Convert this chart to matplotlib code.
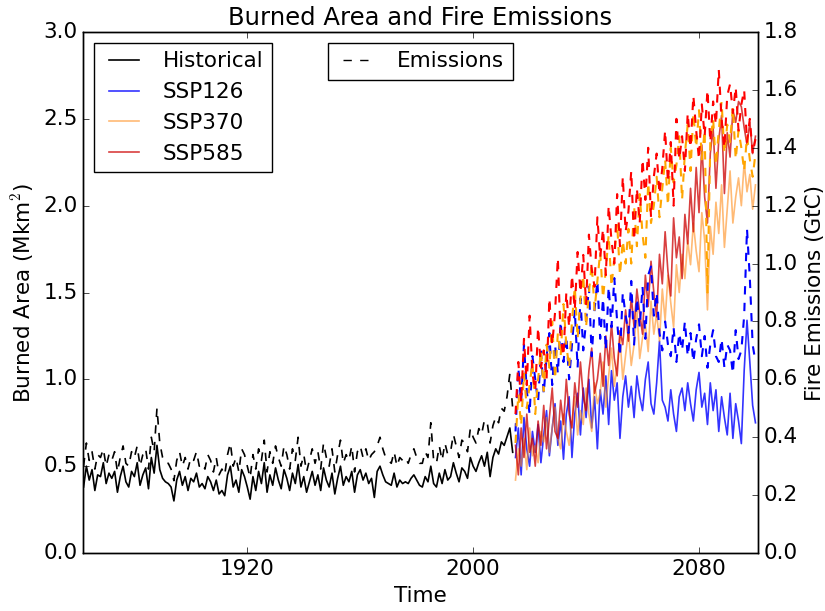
import numpy as np
import matplotlib
matplotlib.use("Agg")
import matplotlib.pyplot as plt

plt.style.use("classic")
plt.rcParams.update({
    "figure.facecolor": "white",
    "savefig.facecolor": "white",
    "font.size": 15.5,
})

# ── Data ──────────────────────────────────────────────────────────────
hist_years = np.arange(1862, 2015)
ssp_years = np.arange(2015, 2101)

hist_ba = [
    0.38, 0.50, 0.42, 0.48, 0.36, 0.45, 0.44, 0.52, 0.40, 0.46,
    0.43, 0.47, 0.35, 0.44, 0.50, 0.41, 0.38, 0.47, 0.44, 0.52,
    0.39, 0.45, 0.49, 0.37, 0.55, 0.46, 0.62, 0.48, 0.43, 0.41,
    0.40, 0.38, 0.30, 0.42, 0.47, 0.39, 0.44, 0.36, 0.43, 0.41,
    0.46, 0.38, 0.40, 0.37, 0.44, 0.41, 0.36, 0.42, 0.34, 0.36,
    0.33, 0.45, 0.50, 0.38, 0.42, 0.35, 0.48, 0.44, 0.38, 0.31,
    0.44, 0.36, 0.47, 0.40, 0.52, 0.35, 0.45, 0.39, 0.49, 0.42,
    0.37, 0.48, 0.43, 0.36, 0.46, 0.40, 0.51, 0.38, 0.44, 0.35,
    0.41, 0.47, 0.39, 0.45, 0.36, 0.49, 0.42, 0.38, 0.46, 0.34,
    0.43, 0.50, 0.39, 0.44, 0.41, 0.47, 0.35, 0.45, 0.48, 0.42,
    0.46, 0.40, 0.43, 0.32, 0.47, 0.50, 0.45, 0.41, 0.40, 0.39,
    0.46, 0.38, 0.42, 0.40, 0.41, 0.40, 0.43, 0.45, 0.42, 0.39,
    0.38, 0.44, 0.41, 0.50, 0.40, 0.38, 0.46, 0.40, 0.48, 0.42,
    0.44, 0.52, 0.46, 0.41, 0.49, 0.47, 0.43, 0.55, 0.50, 0.47,
    0.52, 0.56, 0.50, 0.58, 0.44, 0.55, 0.60, 0.57, 0.64, 0.62,
    0.67, 0.72, 0.58,
]
hist_em = [
    0.30, 0.38, 0.32, 0.35, 0.29, 0.34, 0.33, 0.36, 0.30, 0.34,
    0.32, 0.35, 0.28, 0.33, 0.37, 0.31, 0.30, 0.35, 0.33, 0.37,
    0.30, 0.34, 0.36, 0.29, 0.40, 0.35, 0.50, 0.38, 0.33, 0.31,
    0.31, 0.29, 0.25, 0.32, 0.35, 0.30, 0.33, 0.29, 0.33, 0.32,
    0.35, 0.30, 0.31, 0.29, 0.34, 0.32, 0.28, 0.33, 0.27, 0.29,
    0.27, 0.34, 0.38, 0.30, 0.33, 0.28, 0.36, 0.34, 0.30, 0.26,
    0.34, 0.29, 0.36, 0.32, 0.39, 0.28, 0.35, 0.31, 0.37, 0.33,
    0.30, 0.37, 0.34, 0.29, 0.36, 0.32, 0.40, 0.30, 0.34, 0.28,
    0.32, 0.36, 0.31, 0.35, 0.29, 0.38, 0.33, 0.30, 0.36, 0.28,
    0.34, 0.39, 0.31, 0.34, 0.32, 0.37, 0.28, 0.35, 0.37, 0.33,
    0.36, 0.32, 0.34, 0.35, 0.37, 0.40, 0.36, 0.33, 0.32, 0.31,
    0.35, 0.30, 0.33, 0.32, 0.33, 0.31, 0.34, 0.36, 0.33, 0.31,
    0.31, 0.35, 0.33, 0.45, 0.32, 0.31, 0.37, 0.32, 0.38, 0.34,
    0.35, 0.41, 0.37, 0.33, 0.39, 0.38, 0.35, 0.43, 0.40, 0.38,
    0.43, 0.41, 0.46, 0.45, 0.38, 0.44, 0.47, 0.45, 0.50, 0.49,
    0.54, 0.62, 0.50,
]

ssp126_ba = [
    0.55, 0.72, 0.45, 0.78, 0.60, 0.50, 0.70, 0.58, 0.74, 0.52,
    0.68, 0.82, 0.56, 0.72, 0.86, 0.62, 0.76, 0.54, 0.80, 0.90,
    0.55, 0.80, 0.92, 0.68, 0.95, 0.78, 1.00, 0.72, 0.90, 0.60,
    0.94, 0.80, 1.02, 0.74, 1.05, 0.88, 0.98, 0.66, 0.90, 1.02,
    0.84, 0.96, 0.78, 1.02, 0.90, 0.82, 1.00, 1.10, 0.86, 0.80,
    0.98, 1.22, 0.88, 0.84, 0.76, 0.94, 0.80, 0.70, 0.90, 0.95,
    0.82, 0.98, 0.86, 0.76, 0.94, 1.04, 0.84, 0.92, 0.74, 0.98,
    0.82, 0.94, 0.70, 0.90, 0.78, 0.68, 0.92, 0.66, 0.86, 0.76,
    0.63, 1.05, 1.34, 1.10, 0.85, 0.75,
]
ssp126_em = [
    0.42, 0.64, 0.52, 0.72, 0.56, 0.48, 0.68, 0.60, 0.52, 0.70,
    0.55, 0.68, 0.76, 0.58, 0.72, 0.62, 0.80, 0.66, 0.75, 0.60,
    0.72, 0.84, 0.64, 0.88, 0.70, 0.80, 0.92, 0.68, 0.84, 0.94,
    0.74, 0.88, 0.70, 0.92, 0.78, 0.95, 0.80, 0.68, 0.90, 0.82,
    0.76, 0.94, 0.72, 0.88, 0.78, 0.92, 0.74, 0.96, 0.99, 0.82,
    0.90, 0.76, 0.70, 0.80, 0.72, 0.68, 0.78, 0.66, 0.76, 0.70,
    0.80, 0.68, 0.76, 0.66, 0.74, 0.79, 0.68, 0.75, 0.64, 0.72,
    0.77, 0.68, 0.66, 0.74, 0.64, 0.72, 0.70, 0.62, 0.77, 0.67,
    0.70, 0.82, 1.12, 0.95, 0.72, 0.66,
]
ssp370_ba = [
    0.42, 0.60, 0.50, 0.66, 0.48, 0.72, 0.56, 0.62, 0.52, 0.70,
    0.64, 0.78, 0.58, 0.72, 0.84, 0.66, 0.60, 0.80, 0.70, 0.62,
    0.76, 0.90, 0.68, 0.82, 0.74, 0.95, 0.80, 0.70, 0.98, 0.86,
    0.92, 1.10, 0.84, 1.02, 1.18, 0.96, 1.08, 1.24, 1.00, 1.14,
    1.28, 1.08, 1.20, 1.40, 1.12, 1.24, 1.32, 1.16, 1.45, 1.26,
    1.38, 1.22, 1.52, 1.34, 1.60, 1.44, 1.30, 1.66, 1.50, 1.72,
    1.58, 1.80, 1.66, 1.90, 1.74, 1.62, 1.96, 1.80, 1.40, 1.88,
    1.72, 2.02, 1.84, 2.12, 1.76, 1.98, 2.20, 1.90, 2.05, 2.16,
    2.00, 2.25, 2.08, 2.18, 1.98, 2.12,
]
ssp370_em = [
    0.38, 0.55, 0.44, 0.62, 0.50, 0.58, 0.66, 0.48, 0.60, 0.70,
    0.56, 0.72, 0.64, 0.80, 0.60, 0.76, 0.68, 0.86, 0.72, 0.64,
    0.80, 0.92, 0.74, 0.88, 0.96, 0.78, 0.90, 1.00, 0.84, 0.94,
    1.04, 0.88, 0.98, 1.10, 0.92, 1.02, 1.14, 0.96, 1.08, 1.00,
    1.12, 1.00, 1.20, 1.06, 1.24, 1.10, 1.02, 1.28, 1.14, 1.20,
    1.30, 1.16, 1.26, 1.36, 1.20, 1.40, 1.28, 1.34, 1.44, 1.22,
    1.38, 1.48, 1.32, 1.52, 1.40, 1.53, 1.36, 1.46, 0.90, 1.42,
    1.50, 1.34, 1.46, 1.56, 1.38, 1.48, 1.42, 1.54, 1.36, 1.46,
    1.40, 1.32, 1.44, 1.36, 1.30, 1.38,
]
ssp585_ba = [
    0.62, 0.45, 0.72, 0.55, 0.80, 0.58, 0.66, 0.50, 0.76, 0.62,
    0.85, 0.60, 0.78, 0.95, 0.70, 0.66, 0.88, 0.74, 1.00, 0.80,
    0.72, 0.98, 0.84, 1.10, 0.90, 0.82, 1.05, 1.18, 0.92, 1.00,
    1.15, 0.96, 1.25, 1.08, 1.32, 1.12, 1.02, 1.28, 1.20, 1.40,
    1.22, 1.48, 1.30, 1.52, 1.38, 1.26, 1.60, 1.42, 1.68, 1.50,
    1.36, 1.72, 1.55, 1.85, 1.62, 1.48, 1.93, 1.70, 1.82, 1.58,
    1.95, 1.78, 2.10, 1.85, 2.22, 1.96, 2.35, 2.05, 1.90, 2.30,
    2.45, 2.10, 2.38, 2.52, 2.07, 2.42, 2.28, 2.55, 2.48, 2.60,
    2.57, 2.45, 2.35, 2.48, 2.30, 2.40,
]
ssp585_em = [
    0.48, 0.66, 0.52, 0.74, 0.58, 0.82, 0.62, 0.56, 0.78, 0.64,
    0.70, 0.60, 0.88, 0.72, 0.83, 1.02, 0.74, 0.68, 0.90, 0.78,
    0.96, 0.84, 1.04, 0.90, 1.03, 0.86, 1.10, 0.98, 0.92, 1.16,
    1.02, 1.12, 0.96, 1.20, 1.08, 1.00, 1.24, 1.06, 1.30, 1.11,
    1.18, 1.32, 1.08, 1.26, 1.14, 1.36, 1.22, 1.40, 1.16, 1.30,
    1.38, 1.24, 1.33, 1.46, 1.28, 1.42, 1.20, 1.50, 1.36, 1.44,
    1.32, 1.52, 1.40, 1.58, 1.46, 1.36, 1.55, 1.44, 1.60, 1.42,
    1.56, 1.48, 1.67, 1.50, 1.40, 1.58, 1.62, 1.52, 1.61, 1.46,
    1.55, 1.60, 1.42, 1.50, 1.38, 1.43,
]

scenarios = [
    ("SSP126", ssp126_ba, ssp126_em, "blue", "blue", 0.8),
    ("SSP370", ssp370_ba, ssp370_em, "#ff8c1a", "orange", 0.6),
    ("SSP585", ssp585_ba, ssp585_em, "#cc0000", "red", 0.75),
]

# ── Plot ──────────────────────────────────────────────────────────────
fig = plt.figure(figsize=(8.25, 6.11), dpi=100)
ax = fig.add_axes([0.1006, 0.0949, 0.8182, 0.8527])
ax2 = ax.twinx()

ax.plot(hist_years, hist_ba, color="black", lw=1.2, label="Historical")
ax2.plot(hist_years, hist_em, color="black", lw=1.2, ls="--")
for name, ba, em, c_ba, c_em, alpha in scenarios:
    ax.plot(ssp_years, ba, color=c_ba, lw=1.2, alpha=alpha, label=name)
    ax2.plot(ssp_years, em, color=c_em, lw=1.5, ls="--")

ax.set_xlim(1861.8, 2100.9)
ax.set_ylim(0, 3.0)
ax2.set_ylim(0, 1.8)
ax.set_xticks([1920, 2000, 2080])
ax.set_yticks(np.arange(0, 3.01, 0.5))
ax2.set_yticks(np.arange(0, 1.81, 0.2))

ax.set_xlabel("Time")
ax.set_ylabel("Burned Area (Mkm$^2$)")
ax2.set_ylabel("Fire Emissions (GtC)")
ax.set_title("Burned Area and Fire Emissions", fontsize=17.5)

ax.legend(loc="upper left", fontsize=15.5)
ax2.plot([], [], color="black", ls="--", label="Emissions")
ax2.legend(loc="upper center", fontsize=15.5)

fig.savefig("out.png", dpi=100)
